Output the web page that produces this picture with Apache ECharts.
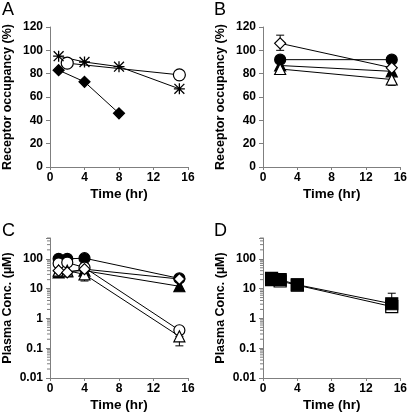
<!DOCTYPE html>
<html>
<head>
<meta charset="utf-8">
<script src="https://cdn.jsdelivr.net/npm/echarts@6/dist/echarts.min.js"></script>
<style>
html,body{margin:0;padding:0;background:#fff;}
#chart{width:410px;height:413px;}
</style>
</head>
<body>
<div id="chart"></div>
<script>
// ---------- DATA ----------
// Panel A: receptor occupancy (%)
const timeA_diamond = [1, 4, 8];
const occA_diamond = [83, 73, 46];
const timeA_circle = [2, 15];
const occA_circle = [89, 79];
const timeA_star = [1, 4, 8, 15];
const occA_star = [95, 90, 86, 67];

// Panel B: receptor occupancy (%)
const timeB = [2, 15];
const occB_filledCircle = [92, 92];
const occB_filledTriangle = [87, 82];
const occB_openTriangle = [84, 75];
const occB_openDiamond = [106, 85];
const errB = [[2, 100, 113], [15, 70, 80]]; // [time, low, high]

// Panel C: plasma concentration (uM)
const timeC = [1, 2, 4, 15];
const concC_filledCircle = [100, 100, 105, 22];
const concC_openCircle = [70, 75, 51, 0.4];
const concC_filledTriangle = [35, 38, 40, 12];
const concC_openTriangle = [40, 40, 30, 0.25];
const concC_openDiamond = [40, 35, 45, 21];
const errC = [[1, 25, 40], [4, 18, 30], [15, 0.12, 0.25]];

// Panel D: plasma concentration (uM)
const timeD = [1, 2, 4, 15];
const concD_openSquare = [20, 18, 13, 2.5];
const concD_filledSquare = [22, 20, 13.5, 3.1];
const errD = [[1, 13, 22], [15, 2.5, 7]];

// Axis ticks
const timeTicks = [0, 4, 8, 12, 16];
const occTicks = [0, 20, 40, 60, 80, 100, 120];
const logTicks = [0.01, 0.1, 1, 10, 100];
const logMinorTicks = [0.02,0.03,0.04,0.05,0.06,0.07,0.08,0.09,
  0.2,0.3,0.4,0.5,0.6,0.7,0.8,0.9, 2,3,4,5,6,7,8,9,
  20,30,40,50,60,70,80,90, 200,300,400,500];

const panelLabels = ['A', 'B', 'C', 'D'];
const occName = 'Receptor occupancy (%)';
const concName = 'Plasma Conc. (\u00b5M)';
const timeName = 'Time (hr)';

// ---------- CHART ----------
const FONT = '"Liberation Sans", Arial, sans-serif';
const chart = echarts.init(document.getElementById('chart'), null, {renderer: 'canvas'});

const grids = [
  {left: 50, top: 27, width: 138, height: 140},
  {left: 263, top: 27, width: 139, height: 140},
  {left: 50, top: 238, width: 138, height: 140},
  {left: 263, top: 238, width: 139, height: 140}
];

const axisLineStyle = {color: '#7f7f7f', width: 1};

function xAxis(gi) {
  return {
    type: 'value', gridIndex: gi, min: timeTicks[0], max: timeTicks[timeTicks.length - 1], interval: 4,
    name: timeName, nameLocation: 'middle', nameGap: 20,
    nameTextStyle: {fontFamily: FONT, fontWeight: 'bold', fontSize: 13.5, color: '#000'},
    axisLine: {lineStyle: axisLineStyle},
    axisTick: {show: true, inside: false, length: 3, lineStyle: axisLineStyle},
    axisLabel: {fontFamily: FONT, fontWeight: 'bold', fontSize: 12, color: '#000', margin: 5},
    splitLine: {show: false}
  };
}
function yOcc(gi) {
  return {
    type: 'value', gridIndex: gi, min: occTicks[0], max: occTicks[occTicks.length - 1], interval: 20,
    name: occName, nameLocation: 'middle', nameGap: 36,
    nameTextStyle: {fontFamily: FONT, fontWeight: 'bold', fontSize: 12.5, color: '#000'},
    axisLine: {show: true, lineStyle: axisLineStyle},
    axisTick: {show: true, length: 4, lineStyle: axisLineStyle},
    axisLabel: {fontFamily: FONT, fontWeight: 'bold', fontSize: 12, color: '#000', margin: 7},
    splitLine: {show: false}
  };
}
function yLog(gi) {
  return {
    type: 'log', logBase: 10, gridIndex: gi, min: logTicks[0], max: 500, interval: 1,
    name: concName, nameLocation: 'middle', nameGap: 36,
    nameTextStyle: {fontFamily: FONT, fontWeight: 'bold', fontSize: 12.5, color: '#000'},
    axisLine: {show: true, lineStyle: axisLineStyle},
    axisTick: {show: true, length: 4, lineStyle: axisLineStyle},
    axisLabel: {
      fontFamily: FONT, fontWeight: 'bold', fontSize: 12, color: '#000', margin: 7,
      formatter: function (v) {
        const l = Math.log10(v);
        if (Math.abs(l - Math.round(l)) > 1e-6) return '';
        const r = Math.pow(10, Math.round(l));
        return logTicks.indexOf(+r.toPrecision(1)) >= 0 ? String(+r.toPrecision(1)) : '';
      }
    },
    splitLine: {show: false}
  };
}

const STAR = 'path://M0,-10 L0,10 M-9,-9 L9,9 M-9,9 L9,-9 M-10,0 L10,0';

function lineSeries(gi, xs, ys, symbol, filled, size, z) {
  return {
    type: 'line', xAxisIndex: gi, yAxisIndex: gi,
    data: xs.map((x, i) => [x, ys[i]]),
    symbol: symbol, symbolSize: size, showSymbol: true,
    lineStyle: {color: '#000', width: 1},
    itemStyle: {color: filled ? '#000' : '#fff', borderColor: '#000', borderWidth: 1.2, opacity: 1},
    z: z || 3, animation: false, silent: true
  };
}
function starSeries(gi, xs, ys) {
  return {
    type: 'line', xAxisIndex: gi, yAxisIndex: gi,
    data: xs.map((x, i) => [x, ys[i]]),
    symbol: STAR, symbolSize: 11, showSymbol: true,
    lineStyle: {color: '#000', width: 1},
    itemStyle: {color: '#000', borderColor: '#000', borderWidth: 1.3},
    z: 3, animation: false, silent: true
  };
}
function errSeries(gi, data) {
  return {
    type: 'custom', xAxisIndex: gi, yAxisIndex: gi, data: data,
    encode: {x: 0, y: [1, 2]}, z: 1, animation: false, silent: true,
    renderItem: function (params, api) {
      const x = api.value(0), lo = api.value(1), hi = api.value(2);
      const p1 = api.coord([x, hi]), p2 = api.coord([x, lo]);
      const w = 4, st = {stroke: '#000', lineWidth: 1};
      return {type: 'group', children: [
        {type: 'line', shape: {x1: p1[0], y1: p1[1], x2: p2[0], y2: p2[1]}, style: st},
        {type: 'line', shape: {x1: p1[0] - w, y1: p1[1], x2: p1[0] + w, y2: p1[1]}, style: st},
        {type: 'line', shape: {x1: p2[0] - w, y1: p2[1], x2: p2[0] + w, y2: p2[1]}, style: st}
      ]};
    }
  };
}
function minorTickSeries(gi) {
  return {
    type: 'custom', xAxisIndex: gi, yAxisIndex: gi, data: logMinorTicks.map(v => [0, v]),
    encode: {x: 0, y: 1}, z: 5, clip: false, animation: false, silent: true,
    renderItem: function (params, api) {
      const p = api.coord([api.value(0), api.value(1)]);
      return {type: 'line', shape: {x1: p[0] - 3, y1: p[1], x2: p[0], y2: p[1]},
        style: {stroke: '#7f7f7f', lineWidth: 1}};
    }
  };
}

const series = [
  // A
  lineSeries(0, timeA_diamond, occA_diamond, 'diamond', true, 11),
  lineSeries(0, timeA_circle, occA_circle, 'circle', false, 12),
  starSeries(0, timeA_star, occA_star),
  // B
  errSeries(1, errB),
  lineSeries(1, timeB, occB_filledCircle, 'circle', true, 11),
  lineSeries(1, timeB, occB_filledTriangle, 'triangle', true, 11),
  lineSeries(1, timeB, occB_openTriangle, 'triangle', false, 11),
  lineSeries(1, timeB, occB_openDiamond, 'diamond', false, 11),
  // C
  errSeries(2, errC),
  minorTickSeries(2),
  lineSeries(2, timeC, concC_filledCircle, 'circle', true, 11),
  lineSeries(2, timeC, concC_filledTriangle, 'triangle', true, 11),
  lineSeries(2, timeC, concC_openCircle, 'circle', false, 11),
  lineSeries(2, timeC, concC_openTriangle, 'triangle', false, 11),
  lineSeries(2, timeC, concC_openDiamond, 'diamond', false, 11),
  // D
  errSeries(3, errD),
  minorTickSeries(3),
  lineSeries(3, timeD, concD_openSquare, 'rect', false, 12),
  lineSeries(3, timeD, concD_filledSquare, 'rect', true, 12)
];

const labelPos = [[2, 1], [214, 1], [2, 222], [214, 222]];
const graphic = panelLabels.map((t, i) => ({
  type: 'text', left: labelPos[i][0], top: labelPos[i][1],
  style: {text: t, fontFamily: FONT, fontSize: 18, fill: '#000'}
}));

chart.setOption({
  animation: false,
  backgroundColor: '#fff',
  grid: grids,
  xAxis: [xAxis(0), xAxis(1), xAxis(2), xAxis(3)],
  yAxis: [yOcc(0), yOcc(1), yLog(2), yLog(3)],
  series: series,
  graphic: graphic
});
</script>
</body>
</html>
